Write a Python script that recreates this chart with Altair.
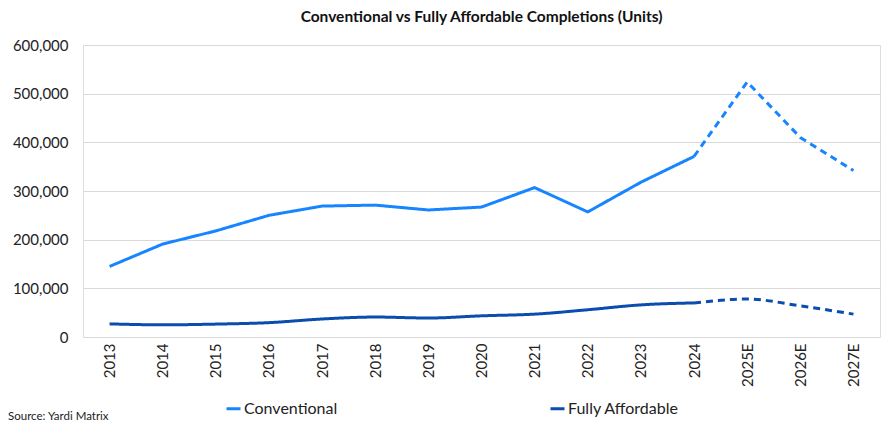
import altair as alt
import pandas as pd

years = ["2013", "2014", "2015", "2016", "2017", "2018", "2019", "2020",
         "2021", "2022", "2023", "2024", "2025E", "2026E", "2027E"]
conventional = [145000, 191000, 218000, 250000, 269000, 271000, 261000, 267000,
                307000, 257000, 318000, 371000, 524000, 410000, 342000]
affordable = [27000, 25000, 26500, 29500, 37000, 41000, 39000, 43500,
              47000, 56000, 66000, 70000, 78000, 64000, 47000]
n_actual = 12  # 2013..2024 actual, remaining are estimates

rows = []
for name, vals in [("Conventional", conventional), ("Fully Affordable", affordable)]:
    for i, (yr, v) in enumerate(zip(years, vals)):
        if i < n_actual:
            rows.append({"series": name, "year": yr, "value": v, "part": "actual"})
        if i >= n_actual - 1:
            rows.append({"series": name, "year": yr, "value": v, "part": "estimate"})
df = pd.DataFrame(rows)

FONT = "Lato"
color_scale = alt.Scale(domain=["Conventional", "Fully Affordable"],
                        range=["#1785FF", "#0A4DAF"])

base = alt.Chart(df).encode(
    x=alt.X("year:N", sort=years, title=None,
            scale=alt.Scale(paddingOuter=0.5),
            axis=alt.Axis(labelAngle=270, labelAlign="right", labelBaseline="middle",
                          labelPadding=6, ticks=False, domain=False, grid=False,
                          labelFontSize=15, labelColor="#222", labelFont=FONT)),
    y=alt.Y("value:Q", title=None,
            scale=alt.Scale(domain=[0, 600000]),
            axis=alt.Axis(values=[0, 100000, 200000, 300000, 400000, 500000, 600000],
                          format=",.0f", ticks=False, domain=False, labelPadding=15,
                          gridColor="#d9d9d9", labelFontSize=15, labelColor="#222",
                          labelFont=FONT)),
    color=alt.Color("series:N", scale=color_scale, title=None,
                    legend=alt.Legend(orient="none", legendX=142, legendY=355,
                                      direction="horizontal", columnPadding=206,
                                      symbolType="stroke", symbolStrokeWidth=3,
                                      symbolSize=196, labelFontSize=16, labelOffset=2,
                                      labelFont=FONT, labelColor="#222",
                                      symbolDash=[1, 0])),
    strokeDash=alt.StrokeDash("part:N",
                              scale=alt.Scale(domain=["actual", "estimate"],
                                              range=[[1, 0], [7, 5]]),
                              legend=None),
)

conv = base.transform_filter(alt.datum.series == "Conventional").mark_line(strokeWidth=3)
aff = base.transform_filter(alt.datum.series == "Fully Affordable").mark_line(
    strokeWidth=3, interpolate="monotone")

source = alt.Chart(pd.DataFrame({"t": ["Source: Yardi Matrix"]})).mark_text(
    align="left", baseline="middle", fontSize=11.5, font=FONT,
    color="#222").encode(text="t:N", x=alt.value(-75), y=alt.value(372))

chart = alt.layer(conv, aff, source).properties(
    width=797, height=292,
    autosize=alt.AutoSizeParams(type="none"),
    padding={"left": 75, "top": 37, "right": 2, "bottom": 90},
    title=alt.TitleParams("Conventional vs Fully Affordable Completions (Units)",
                          fontSize=15.5, font=FONT, fontWeight="bold", color="#111",
                          anchor="middle", offset=13),
).configure_view(stroke=None).configure(background="white")

chart.save("out.html", embed_options={"renderer": "svg", "actions": False})
